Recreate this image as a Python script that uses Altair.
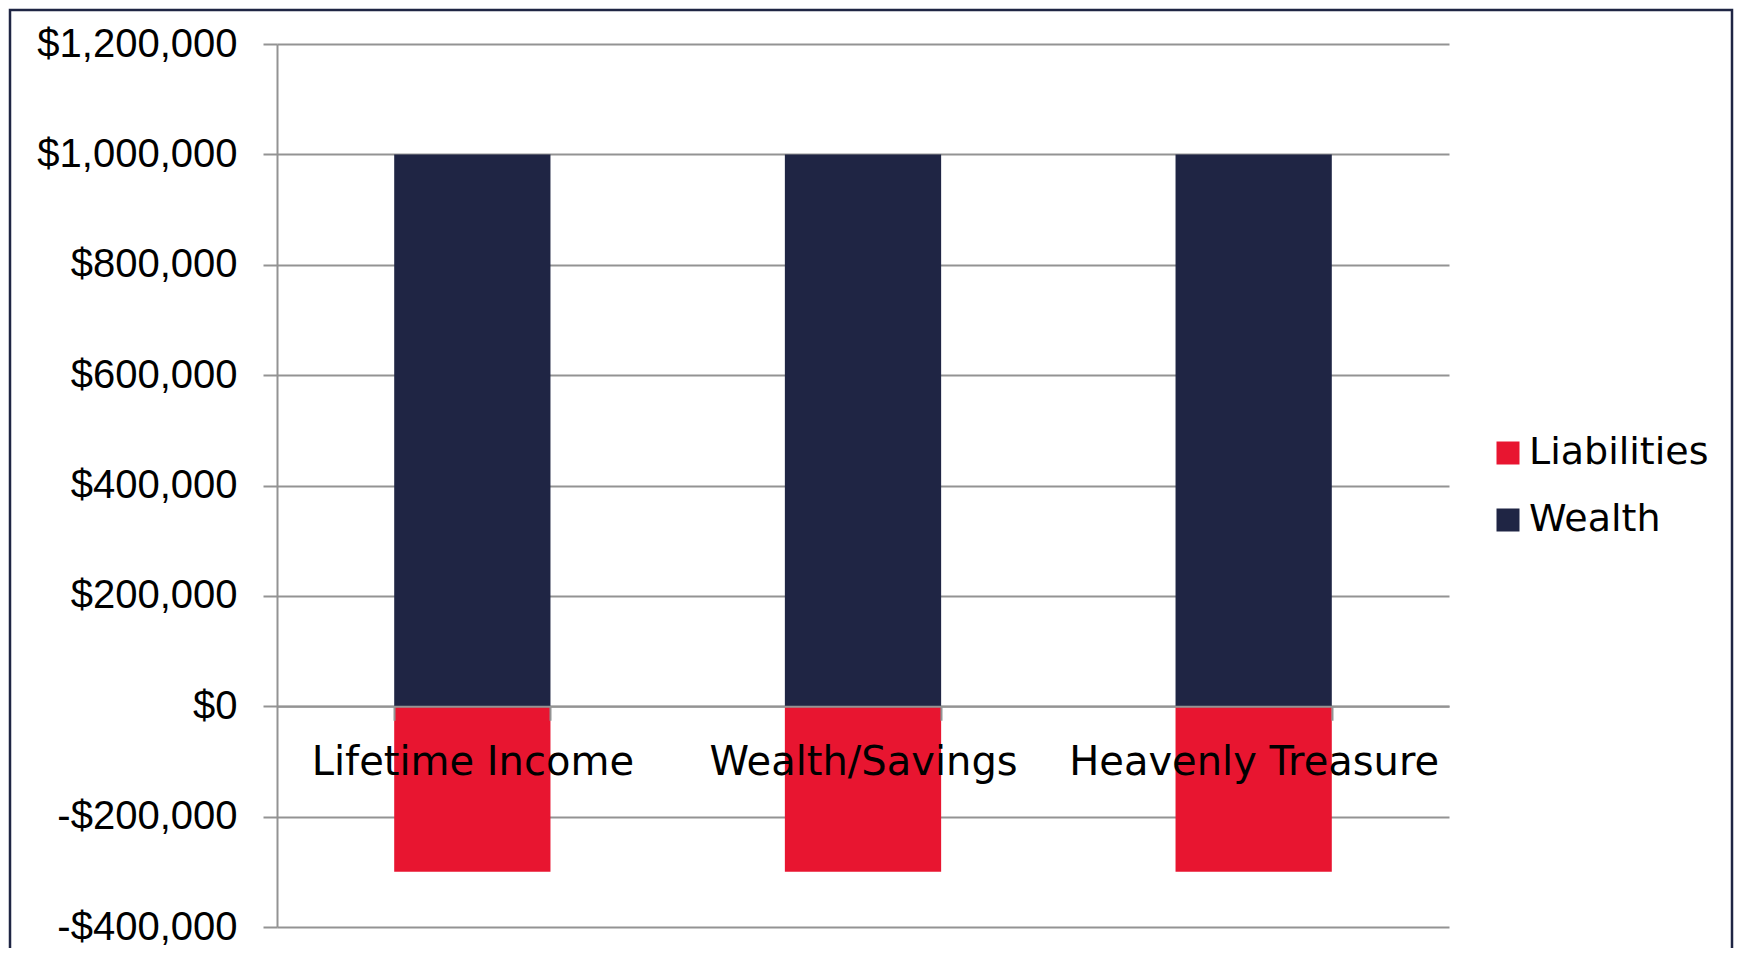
import altair as alt
import pandas as pd

categories = ["Lifetime Income", "Wealth/Savings", "Heavenly Treasure"]
wealth = [1000000, 1000000, 1000000]
liabilities = [-300000, -300000, -300000]
series_names = ["Liabilities", "Wealth"]
y_ticks = [-400000, -200000, 0, 200000, 400000, 600000, 800000, 1000000, 1200000]

RED = "#E81530"
NAVY = "#1F2544"
GRID = "#939393"

rows = []
for c, w, l in zip(categories, wealth, liabilities):
    rows.append({"category": c, "series": "Wealth", "value": w})
    rows.append({"category": c, "series": "Liabilities", "value": l})
df = pd.DataFrame(rows)

W, H = 1172, 883
zero_offset = -(H * (0 - y_ticks[0]) / (y_ticks[-1] - y_ticks[0]))

bars = alt.Chart(df).mark_bar().encode(
    x=alt.X(
        "category:N",
        sort=categories,
        scale=alt.Scale(paddingInner=0.6, paddingOuter=0.3),
        axis=alt.Axis(
            title=None,
            orient="bottom",
            offset=zero_offset,
            zindex=2,
            labelAngle=0,
            tickBand="extent",
            tickSize=14,
            tickWidth=2,
            tickColor=GRID,
            domainColor=GRID,
            domainWidth=2,
            grid=False,
            labelFont="DejaVu Sans",
            labelFontSize=40,
            labelColor="#000000",
            labelPadding=22,
            labelLimit=1000,
            labelOverlap=False,
        ),
    ),
    y=alt.Y(
        "value:Q",
        stack=None,
        scale=alt.Scale(domain=[y_ticks[0], y_ticks[-1]], nice=False, zero=False),
        axis=alt.Axis(
            title=None,
            values=y_ticks,
            labelExpr="datum.value < 0 ? '-$' + format(-datum.value, ',') : '$' + format(datum.value, ',')",
            grid=True,
            gridColor=GRID,
            gridWidth=2,
            domainColor=GRID,
            domainWidth=2,
            tickColor=GRID,
            tickWidth=2,
            tickSize=14,
            labelPadding=26,
            labelFont="Liberation Sans",
            labelFontSize=40,
            labelColor="#000000",
            labelLimit=1000,
            labelOverlap=False,
        ),
    ),
    color=alt.Color(
        "series:N",
        scale=alt.Scale(domain=series_names, range=[RED, NAVY]),
        legend=alt.Legend(
            title=None,
            orient="none",
            legendX=1212,
            legendY=390,
            symbolType="square",
            symbolSize=529,
            symbolStrokeWidth=0,
            symbolOpacity=1,
            labelFont="DejaVu Sans",
            labelFontSize=38,
            labelColor="#000000",
            labelOffset=2,
            rowPadding=29,
            padding=0,
            labelLimit=1000,
        ),
    ),
)

border = alt.Chart(pd.DataFrame({"a": [0]})).mark_rect(
    fill=None, stroke=NAVY, strokeWidth=2.5
).encode(
    x=alt.value(-267),
    x2=alt.value(1455),
    y=alt.value(-34),
    y2=alt.value(930),
)

chart = alt.layer(border, bars).properties(
    width=W,
    height=H,
    padding={"left": 269, "top": 36, "right": 285, "bottom": 21},
    autosize=alt.AutoSizeParams(type="none"),
    background="#ffffff",
).configure_view(stroke=None)

chart.save("out.html", embed_options={"renderer": "svg", "actions": False})
